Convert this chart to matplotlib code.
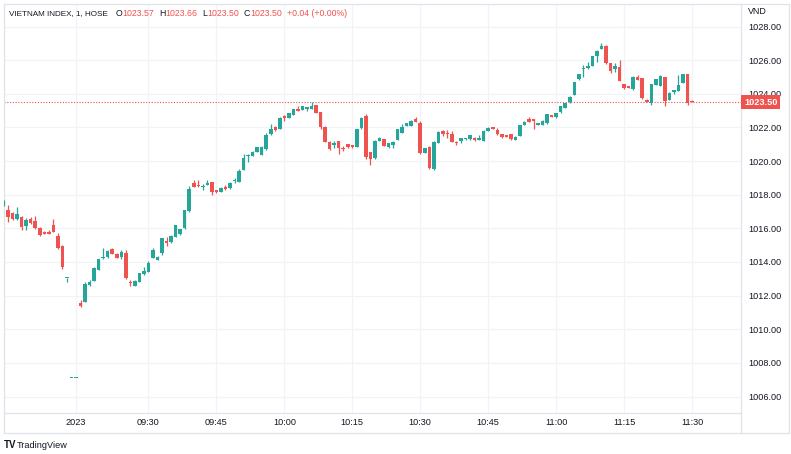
import numpy as np
import matplotlib.pyplot as plt
from matplotlib.transforms import blended_transform_factory, ScaledTranslation
from matplotlib.lines import Line2D

# 1-minute candles, VIETNAM INDEX (HOSE), last bars of 2022 then morning of 03 Jan 2023
opens = [
    1017.35, 1017.09, 1016.90, 1016.55, 1016.69, 1016.15, 1016.55, 1016.43, 1016.04, 1015.80,
    1015.78, 1016.20, 1015.56, 1014.95, 1013.05, 1007.09, 1007.09, 1011.58, 1011.64, 1012.63,
    1012.89, 1013.52, 1014.22, 1014.28, 1014.80, 1014.50, 1014.28, 1014.55, 1012.83, 1012.60,
    1012.80, 1013.28, 1013.42, 1014.26, 1014.12, 1014.55, 1015.27, 1015.17, 1015.50, 1015.65,
    1016.00, 1017.03, 1018.68, 1018.58, 1018.46, 1018.60, 1018.74, 1018.26, 1018.16, 1018.46,
    1018.38, 1018.81, 1018.77, 1019.47, 1020.30, 1020.30, 1020.56, 1020.36, 1020.70, 1021.59,
    1022.00, 1021.90, 1022.70, 1022.58, 1022.74, 1023.10, 1023.05, 1023.12, 1023.10, 1023.33,
    1022.90, 1022.04, 1021.15, 1020.98, 1021.20, 1020.78, 1020.99, 1020.95, 1020.85, 1021.95,
    1022.68, 1020.52, 1020.17, 1021.19, 1021.30, 1020.81, 1020.96, 1021.25, 1021.69, 1022.08,
    1022.10, 1022.48, 1022.28, 1020.50, 1020.85, 1019.50, 1021.09, 1021.79, 1021.65, 1021.59,
    1021.15, 1021.20, 1021.30, 1021.30, 1021.35, 1021.27, 1021.20, 1021.79, 1022.00, 1021.85,
    1021.59, 1021.55, 1021.60, 1021.25, 1021.50, 1022.14, 1022.52, 1022.50, 1022.14, 1022.14,
    1022.24, 1022.74, 1022.60, 1022.90, 1023.17, 1023.50, 1023.93, 1024.86, 1025.45, 1025.52,
    1025.65, 1026.25, 1026.66, 1026.86, 1025.81, 1025.45, 1025.60, 1024.58, 1024.46, 1024.27,
    1025.02, 1024.92, 1023.61, 1023.43, 1024.52, 1024.46, 1024.98, 1023.63, 1024.10, 1024.17,
    1024.66, 1025.16, 1023.57,
]
highs = [
    1017.70, 1017.39, 1017.00, 1017.25, 1016.75, 1016.60, 1016.69, 1016.73, 1016.10, 1015.85,
    1015.90, 1016.54, 1015.74, 1015.00, 1013.07, 1007.09, 1007.09, 1011.75, 1012.79, 1012.93,
    1013.70, 1014.20, 1014.85, 1014.70, 1014.85, 1014.52, 1014.70, 1014.71, 1012.90, 1012.95,
    1013.36, 1013.68, 1014.08, 1014.85, 1014.34, 1015.43, 1015.50, 1015.58, 1016.22, 1015.98,
    1017.11, 1018.52, 1018.86, 1018.86, 1018.63, 1018.88, 1018.76, 1018.28, 1018.44, 1018.60,
    1018.74, 1019.00, 1019.50, 1020.40, 1020.45, 1020.58, 1020.83, 1020.90, 1021.65, 1022.19,
    1022.10, 1022.60, 1022.72, 1022.86, 1023.10, 1023.27, 1023.29, 1023.18, 1023.49, 1023.35,
    1022.92, 1022.06, 1021.17, 1021.20, 1021.22, 1020.90, 1021.01, 1020.97, 1021.92, 1022.60,
    1022.78, 1020.54, 1021.23, 1021.41, 1021.32, 1021.08, 1021.17, 1021.91, 1022.20, 1022.26,
    1022.42, 1022.65, 1022.40, 1020.78, 1020.90, 1021.17, 1021.77, 1021.85, 1021.83, 1021.80,
    1021.20, 1021.38, 1021.35, 1021.57, 1021.42, 1021.55, 1021.82, 1022.00, 1022.05, 1021.95,
    1021.61, 1021.57, 1021.62, 1021.47, 1022.16, 1022.36, 1022.60, 1022.52, 1022.26, 1022.42,
    1022.82, 1022.76, 1022.86, 1023.30, 1023.45, 1023.85, 1024.70, 1025.20, 1025.70, 1025.87,
    1026.27, 1026.58, 1027.00, 1026.88, 1025.83, 1025.83, 1026.00, 1024.60, 1024.48, 1025.04,
    1025.10, 1024.94, 1023.68, 1024.58, 1024.88, 1025.12, 1025.00, 1024.08, 1024.22, 1025.12,
    1025.20, 1025.18, 1023.66,
]
lows = [
    1017.30, 1016.40, 1016.50, 1016.47, 1015.90, 1015.90, 1016.25, 1015.95, 1015.55, 1015.65,
    1015.65, 1015.78, 1014.80, 1013.57, 1012.80, 1007.09, 1007.09, 1011.35, 1011.60, 1012.60,
    1012.85, 1013.50, 1014.20, 1014.25, 1014.45, 1014.24, 1014.20, 1013.00, 1012.60, 1012.55,
    1012.78, 1013.25, 1013.40, 1014.24, 1014.10, 1014.41, 1014.97, 1015.15, 1015.48, 1015.62,
    1015.98, 1017.00, 1018.44, 1018.45, 1018.28, 1018.58, 1017.97, 1018.12, 1018.14, 1018.30,
    1018.36, 1018.70, 1018.75, 1019.45, 1019.97, 1020.28, 1020.54, 1020.34, 1020.68, 1021.57,
    1021.78, 1021.88, 1022.40, 1022.56, 1022.72, 1022.96, 1023.03, 1023.00, 1023.08, 1022.85,
    1021.90, 1021.13, 1020.65, 1020.80, 1020.40, 1020.60, 1020.79, 1020.79, 1020.83, 1021.93,
    1020.10, 1019.77, 1020.15, 1021.17, 1020.88, 1020.79, 1020.80, 1021.23, 1021.67, 1022.06,
    1022.08, 1022.32, 1020.40, 1020.48, 1019.50, 1019.48, 1021.07, 1021.50, 1021.40, 1021.13,
    1020.98, 1021.10, 1021.28, 1021.28, 1021.22, 1021.25, 1021.18, 1021.77, 1021.88, 1021.57,
    1021.39, 1021.43, 1021.28, 1021.23, 1021.48, 1022.12, 1022.32, 1021.90, 1022.12, 1022.12,
    1022.22, 1022.62, 1022.58, 1022.88, 1023.15, 1023.48, 1023.91, 1024.84, 1025.00, 1025.50,
    1025.63, 1025.90, 1026.64, 1025.79, 1025.22, 1025.30, 1024.76, 1024.31, 1024.34, 1024.25,
    1024.80, 1023.71, 1023.51, 1023.35, 1024.50, 1024.44, 1023.29, 1023.61, 1024.00, 1024.15,
    1024.64, 1023.35, 1023.50,
]
closes = [
    1017.63, 1016.69, 1016.55, 1016.83, 1016.06, 1016.50, 1016.30, 1016.00, 1015.60, 1015.68,
    1015.68, 1015.80, 1014.85, 1013.72, 1013.07, 1007.09, 1007.09, 1011.38, 1012.67, 1012.83,
    1013.66, 1014.18, 1014.30, 1014.65, 1014.47, 1014.26, 1014.61, 1013.03, 1012.73, 1012.87,
    1013.34, 1013.46, 1013.92, 1014.71, 1014.32, 1015.41, 1015.15, 1015.56, 1016.20, 1015.96,
    1017.09, 1018.34, 1018.46, 1018.52, 1018.52, 1018.68, 1018.14, 1018.14, 1018.42, 1018.32,
    1018.72, 1018.89, 1019.41, 1020.20, 1020.35, 1020.56, 1020.81, 1020.85, 1021.55, 1021.89,
    1021.85, 1022.58, 1022.54, 1022.84, 1023.08, 1022.98, 1023.27, 1023.16, 1023.29, 1022.87,
    1022.04, 1021.15, 1020.72, 1021.05, 1020.80, 1020.70, 1020.81, 1020.81, 1021.90, 1022.58,
    1020.26, 1020.12, 1021.21, 1021.39, 1020.90, 1021.06, 1021.15, 1021.89, 1022.02, 1022.24,
    1022.40, 1022.34, 1020.46, 1020.76, 1019.57, 1021.15, 1021.75, 1021.59, 1021.59, 1021.15,
    1021.05, 1021.36, 1021.33, 1021.55, 1021.27, 1021.40, 1021.80, 1021.98, 1021.90, 1021.59,
    1021.41, 1021.45, 1021.30, 1021.45, 1022.14, 1022.34, 1022.34, 1022.40, 1022.24, 1022.40,
    1022.80, 1022.64, 1022.84, 1023.28, 1023.43, 1023.83, 1024.68, 1025.18, 1025.50, 1025.67,
    1026.25, 1026.56, 1026.86, 1025.81, 1025.35, 1025.65, 1024.78, 1024.33, 1024.36, 1025.02,
    1024.82, 1023.73, 1023.53, 1024.56, 1024.86, 1025.06, 1023.57, 1024.06, 1024.20, 1024.52,
    1025.18, 1023.47, 1023.50,
]

# time axis: bar index of each label
tick_bars = [16, 32, 47, 62, 77, 92, 107, 122, 137, 152]
tick_labels = ['2023', '09:30', '09:45', '10:00', '10:15', '10:30', '10:45', '11:00', '11:15', '11:30']
price_ticks = [1006, 1008, 1010, 1012, 1014, 1016, 1018, 1020, 1022, 1024, 1026, 1028]

UP = '#26a69a'
DOWN = '#ef5350'
TXT = '#131722'
GRID = '#f0f3fa'
BORDER = '#e0e3eb'

plt.rcParams['font.family'] = ['Liberation Sans', 'DejaVu Sans']

W, H = 791, 454
fig = plt.figure(figsize=(W / 100, H / 100), dpi=100)
fig.patch.set_facecolor('white')

# chart pane in pixel bounds
left, right, top, bottom = 3.5, 741, 4, 413
ax = fig.add_axes([left / W, 1 - bottom / H, (right - left) / W, (bottom - top) / H])

o = np.array(opens)
h = np.array(highs)
l = np.array(lows)
c = np.array(closes)
x = np.arange(len(o))
cols = np.where(c >= o, UP, DOWN)

# wicks and bodies
ax.vlines(x, l, h, colors=cols, linewidth=0.9, zorder=3)
body_lo = np.minimum(o, c)
body_h = np.maximum(np.abs(c - o), 0.08)
ax.bar(x, body_h, bottom=body_lo, width=0.78, color=cols, linewidth=0, zorder=4)

# last price line
last = closes[-1]
ax.axhline(last, color=DOWN, linestyle=(0, (1, 1.5)), linewidth=0.8, zorder=2)

ax.set_xlim(0, (right - left) / 4.53)
ax.set_ylim(1005.02, 1029.34)

ax.set_xticks(tick_bars)
ax.set_xticklabels(tick_labels)
ax.set_yticks(price_ticks)
ax.set_yticklabels([f'{p:.2f}' for p in price_ticks])
ax.yaxis.tick_right()
ax.tick_params(axis='both', length=0, labelsize=6.6, colors=TXT)
ax.tick_params(axis='x', pad=3.5)
ax.tick_params(axis='y', pad=5)
ax.grid(True, color=GRID, linewidth=0.9, zorder=0)
ax.set_axisbelow(True)
for s in ax.spines.values():
    s.set_color(BORDER)
    s.set_linewidth(0.9)

# price label on the right scale
tr = blended_transform_factory(ax.transAxes, ax.transData)
off = ScaledTranslation(3 / 100, 0, fig.dpi_scale_trans)
ax.text(1.0, last, f'{last:.2f}', transform=tr + off, ha='left', va='center',
        fontsize=6.6, color='white', fontweight='bold', clip_on=False, zorder=10,
        bbox=dict(boxstyle='square,pad=0.3', fc=DOWN, ec='none'))

# frame of the time axis and the price axis
fig.add_artist(Line2D([right / W, right / W], [1 - 433 / H, 1 - bottom / H], color=BORDER, lw=0.9))
fig.add_artist(Line2D([left / W, 789 / W], [1 - 433 / H, 1 - 433 / H], color=BORDER, lw=0.9))
fig.add_artist(Line2D([left / W, left / W], [1 - 433 / H, 1 - bottom / H], color=BORDER, lw=0.9))
fig.add_artist(Line2D([789 / W, 789 / W], [1 - 433 / H, 1 - top / H], color=BORDER, lw=0.9))
fig.add_artist(Line2D([right / W, 789 / W], [1 - top / H, 1 - top / H], color=BORDER, lw=0.9))

fig.text(748 / W, 1 - 12 / H, 'VND', fontsize=6.4, color=TXT, va='center')

# legend line at the top
hdr_y = 1 - 13.5 / H
parts = [
    (9, 'VIETNAM INDEX, 1, HOSE', TXT, 5.9),
    (116, 'O', TXT, 6.3), (122, f'{opens[-1]:.2f}', DOWN, 6.3),
    (159, 'H', TXT, 6.3), (165, f'{highs[-1]:.2f}', DOWN, 6.3),
    (202, 'L', TXT, 6.3), (207, f'{lows[-1]:.2f}', DOWN, 6.3),
    (244, 'C', TXT, 6.3), (250, f'{closes[-1]:.2f}', DOWN, 6.3),
    (287, '+0.04 (+0.00%)', DOWN, 6.3),
]
for px, s, col, fs in parts:
    fig.text(px / W, hdr_y, s, fontsize=fs, color=col, va='center')

# footer logo
fig.text(4 / W, 1 - 445 / H, 'TV', fontsize=7, fontweight='bold', color=TXT, va='center')
fig.text(17 / W, 1 - 445 / H, 'TradingView', fontsize=6.6, color=TXT, va='center')

fig.savefig('out.png', dpi=100)
